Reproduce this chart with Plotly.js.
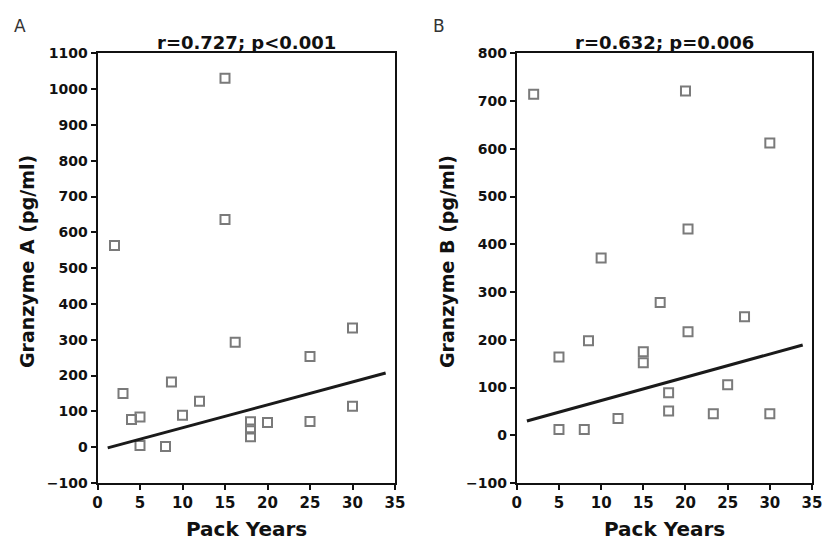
<!DOCTYPE html>
<html><head><meta charset="utf-8">
<script src="https://cdn.plot.ly/plotly-3.0.1.min.js"></script>
<style>html,body{margin:0;padding:0;background:#fff}#chart{width:825px;height:543px}</style>
</head><body><div id="chart"></div>
<script>
// Panel A: Granzyme A vs Pack Years
const packYearsA = [2, 3, 4, 5, 5, 8, 8.7, 10, 12, 15, 15, 16.2, 18, 18, 18, 20, 25, 25, 30, 30];
const granzymeA  = [563, 150, 77, 84, 5, 2, 182, 89, 128, 1030, 636, 293, 71, 51, 29, 69, 253, 72, 333, 114];
const fitA_x = [1.2, 33.9];
const fitA_y = [-2, 207];
// Panel B: Granzyme B vs Pack Years
const packYearsB = [2, 20, 30, 20.3, 10, 17, 27, 20.3, 8.5, 5, 15, 15, 25, 18, 18, 23.3, 30, 12, 5, 8];
const granzymeB  = [714, 721, 612, 432, 371, 278, 248, 217, 198, 164, 175, 152, 106, 89, 51, 45, 45, 35, 12, 12];
const fitB_x = [1.2, 33.9];
const fitB_y = [30, 189];

const titles = ["r=0.727; p<0.001", "r=0.632; p=0.006"];
const yTitles = ["Granzyme A (pg/ml)", "Granzyme B (pg/ml)"];
const xTitle = "Pack Years";
const panelLabels = ["A", "B"];
const xTicks = [0, 5, 10, 15, 20, 25, 30, 35];

const F = "DejaVu Sans, Verdana, sans-serif";
const marker = {symbol: 'square-open', size: 9, color: '#7a7a7a', line: {width: 2, color: '#7a7a7a'}};
const traces = [
  {x: packYearsA, y: granzymeA, mode: 'markers', type: 'scatter', marker: marker, xaxis: 'x', yaxis: 'y', cliponaxis: false},
  {x: fitA_x, y: fitA_y, mode: 'lines', type: 'scatter', line: {color: '#1a1a1a', width: 3}, xaxis: 'x', yaxis: 'y'},
  {x: packYearsB, y: granzymeB, mode: 'markers', type: 'scatter', marker: marker, xaxis: 'x2', yaxis: 'y2', cliponaxis: false},
  {x: fitB_x, y: fitB_y, mode: 'lines', type: 'scatter', line: {color: '#1a1a1a', width: 3}, xaxis: 'x2', yaxis: 'y2'}
];

const H = 543, W = 825;
const yDom = [(H - 483) / H, (H - 53.3) / H];
const xDomA = [97.5 / W, 395 / W];
const xDomB = [516.8 / W, 812 / W];

function xax(dom, anchor) {
  return {domain: dom, anchor: anchor, range: [0, 35], tickvals: xTicks, ticktext: xTicks.map(String),
    showgrid: false, zeroline: false, showline: true, linecolor: '#111', linewidth: 2, mirror: true,
    ticks: 'outside', ticklen: 5, tickwidth: 2, tickcolor: '#111',
    tickfont: {family: F, size: 15, color: '#111', weight: 'bold'}, fixedrange: true};
}
function yax(range, dtick, anchor) {
  return {domain: yDom, anchor: anchor, range: range, dtick: dtick, tick0: 0,
    showgrid: false, zeroline: false, showline: true, linecolor: '#111', linewidth: 2, mirror: true,
    ticks: 'outside', ticklen: 5, tickwidth: 2, tickcolor: '#111',
    tickfont: {family: F, size: 14, color: '#111', weight: 'bold'}, fixedrange: true};
}

const ann = [];
const cx = [(xDomA[0] + xDomA[1]) / 2, (xDomB[0] + xDomB[1]) / 2];
for (let i = 0; i < 2; i++) {
  ann.push({text: titles[i], xref: 'paper', yref: 'paper', x: cx[i], y: (H - 42) / H, showarrow: false,
    xanchor: 'center', yanchor: 'middle', font: {family: F, size: 18, color: '#111', weight: 'bold'}});
  ann.push({text: xTitle, xref: 'paper', yref: 'paper', x: cx[i], y: (H - 529) / H, showarrow: false,
    xanchor: 'center', yanchor: 'middle', font: {family: F, size: 20, color: '#111', weight: 'bold'}});
  ann.push({text: yTitles[i], xref: 'paper', yref: 'paper', x: (i === 0 ? 27 : 447) / W, y: (H - 262) / H, showarrow: false,
    textangle: -90, xanchor: 'center', yanchor: 'middle', font: {family: F, size: 19, color: '#111', weight: 'bold'}});
  ann.push({text: panelLabels[i], xref: 'paper', yref: 'paper', x: (i === 0 ? 20 : 439) / W, y: (H - 26) / H, showarrow: false,
    xanchor: 'center', yanchor: 'middle', font: {family: F, size: 17, color: '#333'}});
}

const layout = {
  width: W, height: H, margin: {l: 0, r: 0, t: 0, b: 0}, showlegend: false,
  paper_bgcolor: '#fff', plot_bgcolor: '#fff',
  xaxis: xax(xDomA, 'y'), yaxis: yax([-100, 1100], 100, 'x'),
  xaxis2: xax(xDomB, 'y2'), yaxis2: yax([-100, 800], 100, 'x2'),
  annotations: ann
};
Plotly.newPlot('chart', traces, layout, {displayModeBar: false, staticPlot: true});
</script></body></html>
